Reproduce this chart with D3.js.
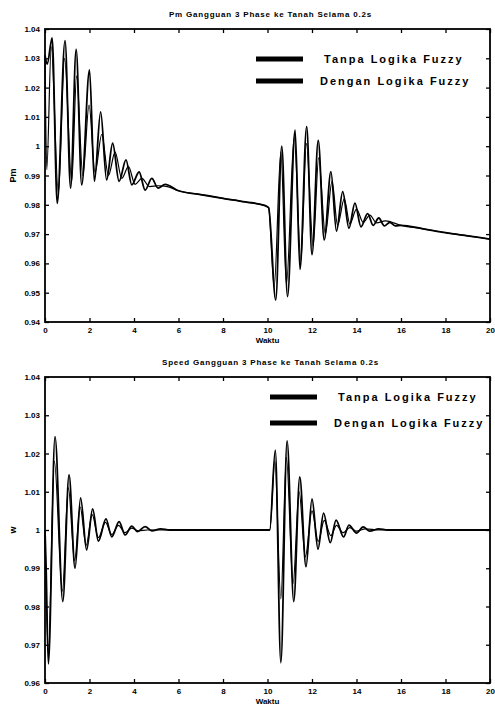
<!DOCTYPE html>
<html>
<head>
<meta charset="utf-8">
<script src="https://cdn.jsdelivr.net/npm/d3@7"></script>
<style>
  body { margin: 0; background: #fff; }
  svg text { font-family: "Liberation Sans", Arial, sans-serif; font-weight: bold; fill: #000; }
</style>
</head>
<body>
<div id="chart"></div>
<script>
// tick values and labels (shared x axis, two y axes)
const xTicks = [0, 2, 4, 6, 8, 10, 12, 14, 16, 18, 20];
const yTicksPm = [0.94, 0.95, 0.96, 0.97, 0.98, 0.99, 1, 1.01, 1.02, 1.03, 1.04];
const yLabelsPm = ["0.94", "0.95", "0.96", "0.97", "0.98", "0.99", "1", "1.01", "1.02", "1.03", "1.04"];
const yTicksW = [0.96, 0.97, 0.98, 0.99, 1, 1.01, 1.02, 1.03, 1.04];
const yLabelsW = ["0.96", "0.97", "0.98", "0.99", "1", "1.01", "1.02", "1.03", "1.04"];
const seriesNames = ["Tanpa Logika Fuzzy", "Dengan Logika Fuzzy"];

// Pm, [time, value]
const pmTanpa = [[0,1.031],[0.1,1.028],[0.32,1.037],[0.55,0.9805],[0.9,1.036],[1.15,0.9857],[1.4,1.033],[1.65,0.9868],
  [2.0,1.026],[2.22,0.988],[2.5,1.0117],[2.77,0.9885],[3.04,1.001],[3.33,0.988],[3.64,0.9953],[3.9,0.9868],[4.23,0.9912],
  [4.5,0.985],[4.8,0.989],[5.08,0.9857],[5.4,0.987],[6,0.9848],[7,0.9835],[8,0.9822],[9,0.981],[9.9,0.9797],[10.05,0.979],
  [10.37,0.9475],[10.64,1.0],[10.9,0.9487],[11.24,1.0055],[11.46,0.958],[11.76,1.0067],[12.0,0.963],[12.28,1.002],
  [12.55,0.968],[12.85,0.9913],[13.1,0.971],[13.38,0.9845],[13.66,0.972],[13.93,0.9806],[14.2,0.9725],[14.5,0.977],
  [14.75,0.973],[15.0,0.9755],[15.25,0.9728],[15.5,0.974],[15.75,0.9728],[16,0.973],[17,0.9718],[18,0.9705],[19,0.9694],[20,0.9683]];
const pmDengan = [[0,1.031],[0.08,0.992],[0.28,1.034],[0.6,0.984],[0.88,1.03],[1.2,0.988],[1.42,1.024],[1.7,0.99],
  [1.98,1.014],[2.25,0.991],[2.55,1.004],[2.85,0.99],[3.15,0.998],[3.45,0.989],[3.75,0.993],[4.05,0.987],[4.35,0.989],
  [4.7,0.9862],[5.1,0.9865],[5.5,0.9862],[6,0.9848],[7,0.9835],[8,0.9822],[9,0.981],[9.9,0.9797],[10.05,0.979],
  [10.3,0.952],[10.6,0.998],[10.85,0.953],[11.2,1.003],[11.5,0.961],[11.75,1.001],[12.05,0.966],[12.3,0.996],[12.6,0.97],
  [12.9,0.988],[13.15,0.973],[13.45,0.982],[13.7,0.9735],[14.0,0.9785],[14.3,0.974],[14.6,0.9765],[14.9,0.9738],
  [15.3,0.9745],[16,0.973],[17,0.9718],[18,0.9705],[19,0.9694],[20,0.9683]];

// speed
const wTanpa = [[0,1.0],[0.05,0.99],[0.15,0.965],[0.45,1.0244],[0.8,0.9813],[1.08,1.0144],[1.35,0.99],[1.6,1.0084],
  [1.87,0.9948],[2.14,1.0055],[2.4,0.9971],[2.74,1.0029],[3.0,0.9982],[3.33,1.0022],[3.6,0.9987],[3.9,1.001],[4.15,0.9996],
  [4.5,1.0009],[4.8,0.9998],[5.2,1.0003],[5.6,1.0],[10.1,1.0],[10.35,1.0209],[10.6,0.9653],[10.88,1.0233],[11.18,0.9813],
  [11.45,1.0139],[11.73,0.9904],[12.0,1.0081],[12.27,0.995],[12.52,1.0044],[12.82,0.9967],[13.08,1.0026],[13.42,0.9982],
  [13.66,1.0013],[14.0,0.9992],[14.3,1.0008],[14.6,0.9997],[15.0,1.0003],[15.4,1.0],[20,1.0]];
const wDengan = [[0,1.0],[0.15,0.968],[0.42,1.018],[0.78,0.984],[1.05,1.011],[1.33,0.992],[1.58,1.006],[1.85,0.996],
  [2.12,1.004],[2.4,0.998],[2.72,1.002],[3.0,0.9988],[3.3,1.0012],[3.6,0.9993],[3.9,1.0005],[4.2,0.9998],[4.6,1.0],
  [10.1,1.0],[10.33,1.018],[10.6,0.982],[10.85,1.019],[11.15,0.986],[11.42,1.01],[11.7,0.993],[12.0,1.005],[12.28,0.997],
  [12.55,1.0025],[12.85,0.9985],[13.1,1.0012],[13.4,0.9993],[13.7,1.0006],[14.0,0.9997],[14.4,1.0003],[15.0,1.0],[16,1.0]];

const svg = d3.select("#chart").append("svg")
    .attr("width", 495)
    .attr("height", 707);

function drawPanel(p) {
    const x = d3.scaleLinear().domain([0, 20]).range([p.left, p.right]);
    const y = d3.scaleLinear().domain(d3.extent(p.yTicks)).range([p.bottom, p.top]);
    const g = svg.append("g");

    // inward ticks on all four sides, like matlab
    g.append("g")
        .attr("transform", `translate(0,${p.bottom})`)
        .call(d3.axisBottom(x).tickValues(xTicks).tickSizeInner(-4).tickSizeOuter(0).tickPadding(5))
        .call(a => a.selectAll("text").attr("font-size", 8));
    g.append("g")
        .attr("transform", `translate(0,${p.top})`)
        .call(d3.axisTop(x).tickValues(xTicks).tickSizeInner(-4).tickSizeOuter(0).tickFormat(""));
    g.append("g")
        .attr("transform", `translate(${p.left},0)`)
        .call(d3.axisLeft(y).tickValues(p.yTicks).tickFormat((d, i) => p.yLabels[i]).tickSizeInner(-4).tickSizeOuter(0).tickPadding(5))
        .call(a => a.selectAll("text").attr("font-size", 8));
    g.append("g")
        .attr("transform", `translate(${p.right},0)`)
        .call(d3.axisRight(y).tickValues(p.yTicks).tickSizeInner(-4).tickSizeOuter(0).tickFormat(""));
    g.selectAll(".domain").remove();
    g.selectAll(".tick line").attr("stroke", "#000").attr("stroke-width", 1.3);

    g.append("rect")
        .attr("x", p.left).attr("y", p.top)
        .attr("width", p.right - p.left).attr("height", p.bottom - p.top)
        .attr("fill", "none").attr("stroke", "#000").attr("stroke-width", 1.8);

    const line = d3.line()
        .x(d => x(d[0]))
        .y(d => y(d[1]))
        .curve(d3.curveMonotoneX);

    g.append("path").datum(p.dengan)
        .attr("d", line).attr("fill", "none").attr("stroke", "#000").attr("stroke-width", 1.2);
    g.append("path").datum(p.tanpa)
        .attr("d", line).attr("fill", "none").attr("stroke", "#000").attr("stroke-width", 1.8);

    // titles and labels
    g.append("text")
        .attr("x", (p.left + p.right) / 2 + 3).attr("y", p.top - 12)
        .attr("text-anchor", "middle").attr("font-size", 8).attr("letter-spacing", 0.8)
        .text(p.title);
    g.append("text")
        .attr("x", (p.left + p.right) / 2).attr("y", p.bottom + 21)
        .attr("text-anchor", "middle").attr("font-size", 8)
        .text("Waktu");
    g.append("text")
        .attr("transform", `translate(16,${(p.top + p.bottom) / 2}) rotate(-90)`)
        .attr("text-anchor", "middle").attr("font-size", 9)
        .text(p.ylabel);

    // legend
    seriesNames.forEach((name, i) => {
        const ly = p.legY + i * p.legGap;
        g.append("line")
            .attr("x1", p.legX).attr("x2", p.legX + 47)
            .attr("y1", ly).attr("y2", ly)
            .attr("stroke", "#000").attr("stroke-width", 5);
        g.append("text")
            .attr("x", p.legX + 68 - i * 4).attr("y", ly + 4)
            .attr("font-size", 11).attr("letter-spacing", 2)
            .text(name);
    });
}

drawPanel({
    left: 45, right: 490, top: 29, bottom: 322,
    yTicks: yTicksPm, yLabels: yLabelsPm,
    tanpa: pmTanpa, dengan: pmDengan,
    title: "Pm Gangguan 3 Phase ke Tanah Selama 0.2s", ylabel: "Pm",
    legX: 256, legY: 59, legGap: 22
});

drawPanel({
    left: 45, right: 490, top: 377, bottom: 683,
    yTicks: yTicksW, yLabels: yLabelsW,
    tanpa: wTanpa, dengan: wDengan,
    title: "Speed Gangguan 3 Phase ke Tanah Selama 0.2s", ylabel: "w",
    legX: 270, legY: 397, legGap: 26
});
</script>
</body>
</html>
